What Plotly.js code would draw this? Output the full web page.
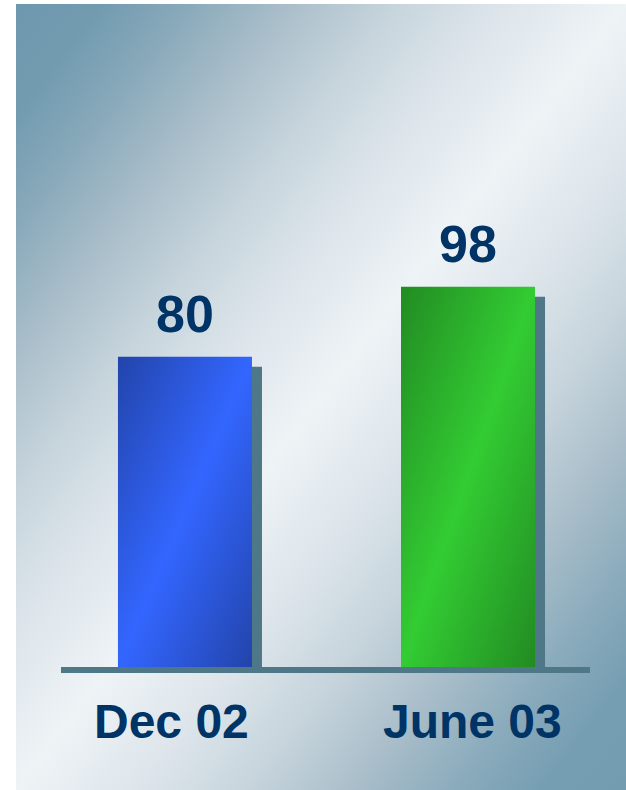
<!DOCTYPE html>
<html>
<head>
<meta charset="utf-8">
<script src="https://cdn.plot.ly/plotly-3.0.1.min.js"></script>
<style>
  html, body { margin: 0; padding: 0; background: #ffffff; }
  #chart { width: 626px; height: 790px; }
</style>
</head>
<body>
<div id="chart"></div>
<script>
// ---- data ----
const categories = ['Dec 02', 'June 03'];
const values = [80, 98];
const valueLabels = ['80', '98'];

// ---- styles ----
const barDark = ['#2244AA', '#228B22'];
const barLight = ['#3366FF', '#33CC33'];
const shadowColor = '#4E7888';
const textColor = '#003366';
const labelShift = [-13, 4];

const bgStops = [
  [0, '#6E98AE'], [0.07, '#729BB0'], [0.14, '#88A9BA'], [0.22, '#A8BDC9'],
  [0.31, '#C6D4DC'], [0.40, '#DDE5EB'], [0.5, '#EEF3F6'],
  [0.60, '#DDE5EB'], [0.69, '#C6D4DC'], [0.78, '#A8BDC9'], [0.86, '#8AABBC'],
  [0.93, '#769EB2'], [1, '#739CB1']
];
const bgSvg =
  '<svg xmlns="http://www.w3.org/2000/svg" width="610" height="786" viewBox="0 0 610 786" preserveAspectRatio="none">' +
  '<defs><linearGradient id="bg" x1="0" y1="0" x2="1" y2="1">' +
  bgStops.map(s => '<stop offset="' + s[0] + '" stop-color="' + s[1] + '"/>').join('') +
  '</linearGradient></defs>' +
  '<rect x="0" y="0" width="610" height="786" fill="url(#bg)"/></svg>';
const bgUri = 'data:image/svg+xml;charset=utf-8,' + encodeURIComponent(bgSvg);

const W = 626, H = 790;
const margin = {l: 61, r: 36, t: 20, b: 123, pad: 0};
const plotW = W - margin.l - margin.r;   // 529
const plotH = H - margin.t - margin.b;   // 647

const barWidth = 0.4735;

const shadowTrace = {
  type: 'bar',
  x: categories,
  y: values,
  width: barWidth,
  marker: {color: shadowColor, line: {width: 0}},
  hoverinfo: 'skip',
  showlegend: false
};
const mainTrace = {
  type: 'bar',
  x: categories,
  y: values,
  width: barWidth,
  marker: {color: barLight, line: {width: 0}},
  hoverinfo: 'skip',
  showlegend: false
};

const annotations = [];
categories.forEach((c, i) => {
  annotations.push({
    x: c, y: values[i], xref: 'x', yref: 'y',
    text: '<b>' + valueLabels[i] + '</b>',
    showarrow: false, yanchor: 'bottom', xanchor: 'center', yshift: 12,
    font: {family: 'Liberation Sans, Arial, sans-serif', size: 52, color: textColor}
  });
  annotations.push({
    x: c, y: 0, xref: 'x', yref: 'paper',
    text: '<b>' + c + '</b>',
    showarrow: false, yanchor: 'top', xanchor: 'center', yshift: -26, xshift: labelShift[i],
    font: {family: 'Liberation Sans, Arial, sans-serif', size: 48, color: textColor}
  });
});

const layout = {
  width: W, height: H,
  margin: margin,
  paper_bgcolor: '#ffffff',
  plot_bgcolor: 'rgba(0,0,0,0)',
  barmode: 'overlay',
  showlegend: false,
  xaxis: {
    type: 'category',
    range: [-0.438, 1.431],
    showgrid: false, zeroline: false, showticklabels: false, ticks: '',
    showline: true, linecolor: shadowColor, linewidth: 6,
    fixedrange: true
  },
  yaxis: {
    range: [0, 166.8],
    visible: false, showgrid: false, zeroline: false,
    fixedrange: true
  },
  images: [{
    source: bgUri,
    xref: 'paper', yref: 'paper',
    x: (16 - margin.l) / plotW,
    y: (H - margin.b - 4) / plotH,
    sizex: 610 / plotW,
    sizey: 786 / plotH,
    xanchor: 'left', yanchor: 'top',
    sizing: 'stretch',
    layer: 'below'
  }],
  annotations: annotations
};

Plotly.newPlot('chart', [shadowTrace, mainTrace], layout, {displayModeBar: false, staticPlot: true}).then(gd => {
  const svg = gd.querySelector('svg.main-svg');
  const ns = 'http://www.w3.org/2000/svg';
  const defs = document.createElementNS(ns, 'defs');
  barDark.forEach((d, i) => {
    const g = document.createElementNS(ns, 'linearGradient');
    g.setAttribute('id', 'barGrad' + i);
    g.setAttribute('x1', '0'); g.setAttribute('y1', '0');
    g.setAttribute('x2', '1'); g.setAttribute('y2', '1');
    [[0, d], [0.5, barLight[i]], [1, d]].forEach(([o, c]) => {
      const s = document.createElementNS(ns, 'stop');
      s.setAttribute('offset', o);
      s.setAttribute('stop-color', c);
      g.appendChild(s);
    });
    defs.appendChild(g);
  });
  svg.insertBefore(defs, svg.firstChild);

  const traces = gd.querySelectorAll('.barlayer .trace');
  // shadow trace: offset down-right
  traces[0].querySelectorAll('.point path').forEach(p => {
    p.setAttribute('transform', 'translate(10,10)');
  });
  traces[1].querySelectorAll('.point path').forEach((p, i) => {
    p.style.fill = 'url(#barGrad' + i + ')';
  });
});
</script>
</body>
</html>
